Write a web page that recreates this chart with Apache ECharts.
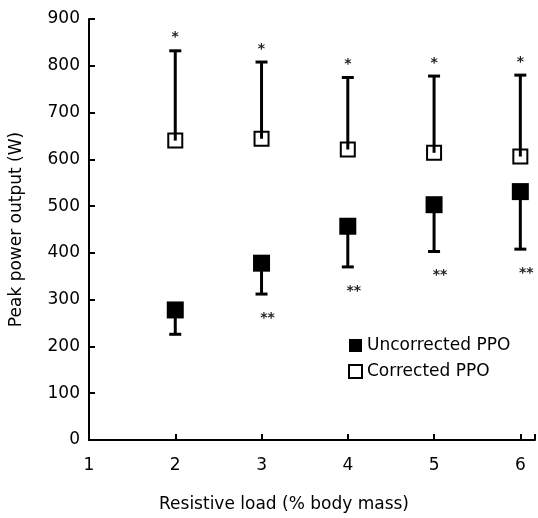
<!DOCTYPE html>
<html>
<head>
<meta charset="utf-8">
<script src="https://cdn.jsdelivr.net/npm/echarts@6/dist/echarts.min.js"></script>
<style>
  html, body { margin: 0; padding: 0; background: #fff; }
  #main { width: 538px; height: 518px; }
</style>
</head>
<body>
<div id="main"></div>
<script>
// resistive load (% body mass)
const loads = [2, 3, 4, 5, 6];
// uncorrected PPO: mean and lower end of error bar
const uncMean = [278, 378, 457, 503, 531];
const uncLow = [226, 312, 370, 403, 408];
const uncSig = ['', '**', '**', '**', '**'];
// corrected PPO: mean and upper end of error bar
const corMean = [640, 644, 621, 614, 606];
const corHigh = [832, 808, 775, 778, 780];
const corSig = ['*', '*', '*', '*', '*'];

const yTicks = [0, 100, 200, 300, 400, 500, 600, 700, 800, 900];
const xTicks = [1, 2, 3, 4, 5, 6];

const FONT = 'DejaVu Sans';

window.addEventListener('load', function () {
    let chart = echarts.init(document.getElementById('main'));

    function errorBar(means, ends, marks, dir) {
        return {
            type: 'custom',
            silent: true,
            z: 1,
            data: loads.map(function (x, i) { return [x, means[i], ends[i]]; }),
            renderItem: function (params, api) {
                let p0 = api.coord([api.value(0), api.value(1)]);
                let p1 = api.coord([api.value(0), api.value(2)]);
                let mark = marks[params.dataIndex];
                let children = [
                    { type: 'line', shape: { x1: p0[0], y1: p0[1], x2: p1[0], y2: p1[1] },
                      style: { stroke: '#000', lineWidth: 3 } },
                    { type: 'line', shape: { x1: p1[0] - 6, y1: p1[1], x2: p1[0] + 6, y2: p1[1] },
                      style: { stroke: '#000', lineWidth: 3 } }
                ];
                if (mark) {
                    children.push({
                        type: 'text',
                        style: {
                            text: mark, x: p1[0] + (dir > 0 ? 0 : 6),
                            y: p1[1] + (dir > 0 ? -13 : 24),
                            align: 'center', verticalAlign: 'middle',
                            font: 'bold 14px ' + FONT, fill: '#222'
                        }
                    });
                }
                return { type: 'group', children: children };
            }
        };
    }

    let option = {
        animation: false,
        grid: { left: 86, right: 0, top: 19, bottom: 66 },
        legend: {
            orient: 'vertical',
            left: 343,
            top: 332,
            itemWidth: 13,
            itemHeight: 13,
            itemGap: 9,
            textStyle: { fontFamily: FONT, fontSize: 17, color: '#000' },
            data: [
                { name: 'Uncorrected PPO', icon: 'rect' },
                { name: 'Corrected PPO', icon: 'rect' }
            ]
        },
        xAxis: {
            type: 'value',
            min: 1,
            max: 6.17,
            interval: 1,
            name: 'Resistive load (% body mass)',
            nameLocation: 'middle',
            nameGap: 56,
            nameTextStyle: { fontFamily: FONT, fontSize: 17, color: '#000', padding: [0, 56, 0, 0] },
            axisLine: { lineStyle: { color: '#000', width: 2 } },
            axisTick: { inside: true, length: 6, lineStyle: { color: '#000', width: 2 } },
            axisLabel: {
                fontFamily: FONT, fontSize: 17, color: '#000', margin: 17,
                formatter: function (v) { return xTicks.indexOf(v) >= 0 ? String(v) : ''; }
            },
            splitLine: { show: false }
        },
        yAxis: {
            type: 'value',
            min: 0,
            max: 900,
            interval: 100,
            name: 'Peak power output (W)',
            nameLocation: 'middle',
            nameGap: 64,
            nameTextStyle: { fontFamily: FONT, fontSize: 17, color: '#000' },
            axisLine: { lineStyle: { color: '#000', width: 2 } },
            axisTick: { inside: true, length: 6, lineStyle: { color: '#000', width: 2 } },
            axisLabel: {
                fontFamily: FONT, fontSize: 17, color: '#000', margin: 9,
                formatter: function (v) { return yTicks.indexOf(v) >= 0 ? String(v) : ''; }
            },
            splitLine: { show: false }
        },
        series: [
            errorBar(uncMean, uncLow, uncSig, -1),
            errorBar(corMean, corHigh, corSig, 1),
            {
                name: 'Uncorrected PPO',
                type: 'scatter',
                z: 3,
                symbol: 'rect',
                symbolSize: 17,
                itemStyle: { color: '#000', opacity: 1 },
                data: loads.map(function (x, i) { return [x, uncMean[i]]; })
            },
            {
                name: 'Corrected PPO',
                type: 'scatter',
                z: 3,
                symbol: 'rect',
                symbolSize: 14,
                itemStyle: { color: 'rgba(255,255,255,0)', borderColor: '#000', borderWidth: 2, opacity: 1 },
                data: loads.map(function (x, i) { return [x, corMean[i]]; })
            }
        ]
    };
    chart.setOption(option);
}, false);
</script>
</body>
</html>
